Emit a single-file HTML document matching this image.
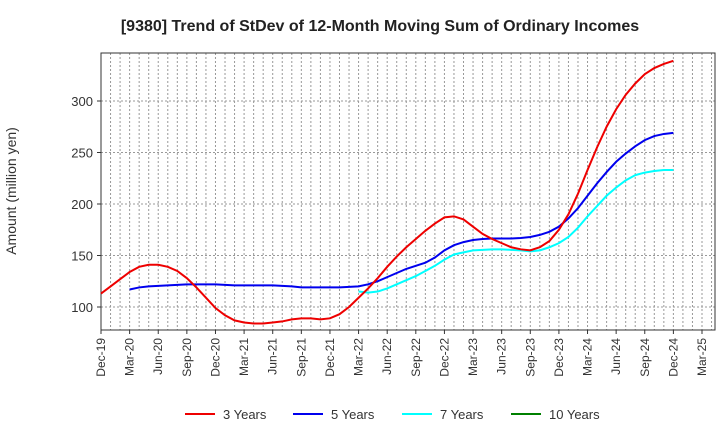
<!DOCTYPE html><html><head><meta charset="utf-8"><style>body{margin:0;background:#fff}svg{font-family:"Liberation Sans",sans-serif}</style></head><body>
<svg id="c" width="720" height="440"></svg>
<script>
const months=["Dec-19","Mar-20","Jun-20","Sep-20","Dec-20","Mar-21","Jun-21","Sep-21","Dec-21","Mar-22","Jun-22","Sep-22","Dec-22","Mar-23","Jun-23","Sep-23","Dec-23","Mar-24","Jun-24","Sep-24","Dec-24","Mar-25"];
const yTicks=[100,150,200,250,300];
const s3=[113,120,127,134,139,141,141,139,135,128,119,109,99,92,87,85,84,84,85,86,88,89,89,88,89,93,100,109,118,128,139,149,158,166,174,181,187,188,185,178,171,166,162,158,156,155,158,164,175,190,210,233,255,275,292,306,317,326,332,336,339];
const s5=[117,119,120,120.5,121,121.5,122,122,122,122,121.5,121,121,121,121,121,120.5,120,119,119,119,119,119,119.5,120,122,125,129,133,137,140,143,148,155,160,163,165,166,166.5,166.5,166.5,167,168,170,173,178,186,196,208,220,231,241,249,256,262,266,268,269];
const s7=[115,114,115,118,122,126,130,135,140,146,151,153,155,155.5,156,156,155.5,155,154,155,158,162,168,177,188,198,208,216,223,228,230.5,232,233,233];
const s5start=3,s7start=27;
const L=101,R=715,T=53,B=330,ns="http://www.w3.org/2000/svg";
const X=m=>L+m*(702-L)/63, Y=v=>307-(v-100)*1.03;
const svg=document.getElementById('c');
function el(t,a,p){const e=document.createElementNS(ns,t);for(const k in a)e.setAttribute(k,a[k]);(p||svg).appendChild(e);return e;}
const g=el('g',{});


for(let m=1;m<=64;m++){const x=X(m);if(x<R)el('line',{x1:x,x2:x,y1:T,y2:B,stroke:'#999','stroke-dasharray':'2,2','stroke-width':1},g);}
yTicks.forEach(v=>el('line',{x1:L,x2:R,y1:Y(v),y2:Y(v),stroke:'#999','stroke-dasharray':'2,2'},g));
const fr=el('rect',{x:L,y:T,width:R-L,height:B-T,fill:'none',stroke:'#333'});


yTicks.forEach(v=>{const t=el('text',{x:L-8,y:Y(v)+5,'text-anchor':'end','font-size':13,fill:'#333'});t.textContent=v;


el('line',{x1:L-4,x2:L,y1:Y(v),y2:Y(v),stroke:'#333'});});
months.forEach((s,i)=>{const x=X(i*3);const t=el('text',{x:x+4,y:B+8,'text-anchor':'end','font-size':12,fill:'#333',transform:`rotate(-90 ${x+4} ${B+8})`});t.textContent=s;


el('line',{x1:x,x2:x,y1:B,y2:B+4,stroke:'#333'});});
function line(d,st,c,n){const p=el('polyline',{points:d.map((v,i)=>X(i+st)+','+Y(v)).join(' '),fill:'none',stroke:c,'stroke-width':2});

}
line(s7,s7start,'#00ffff','line-7-years');line(s5,s5start,'#0000ee','line-5-years');line(s3,0,'#ee0000','line-3-years');
const ti=el('text',{x:380,y:31,'text-anchor':'middle','font-size':16,'font-weight':'bold',fill:'#222'});ti.textContent='[9380]  Trend of StDev of 12-Month Moving Sum of Ordinary Incomes';


const yt=el('text',{x:16,y:191,'text-anchor':'middle','font-size':14,fill:'#333',transform:'rotate(-90 16 191)'});yt.textContent='Amount (million yen)';


[['3 Years','#ee0000',185],['5 Years','#0000ee',293],['7 Years','#00ffff',402],['10 Years','#008000',511]].forEach(([n,c,x])=>{const lg=el('g',{});


el('line',{x1:x,x2:x+30,y1:414,y2:414,stroke:c,'stroke-width':2},lg);const t=el('text',{x:x+38,y:419,'font-size':13,fill:'#333'},lg);t.textContent=n;});
</script></body></html>
